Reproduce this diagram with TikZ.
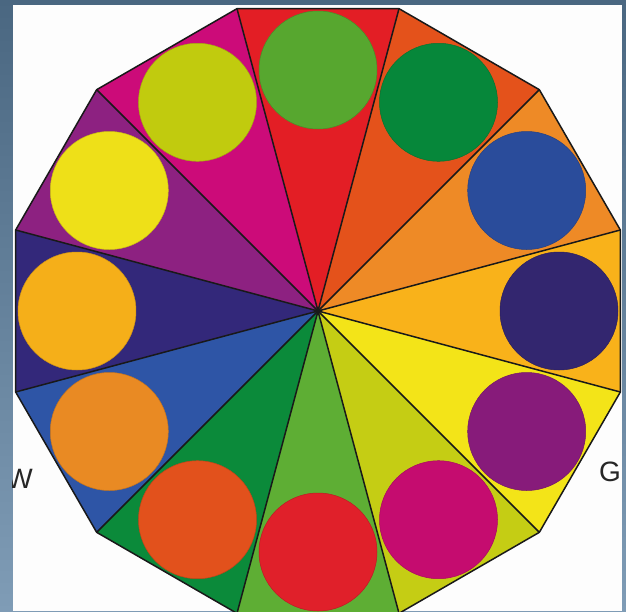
\documentclass[tikz,border=0pt]{standalone}
\usepackage{fontspec}
\setmainfont{Liberation Sans}
\definecolor{bgtop}{HTML}{4A6781}
\definecolor{bgbot}{HTML}{7F9CB6}
\definecolor{panel}{HTML}{FDFDFD}
\definecolor{sA}{HTML}{E31E25}\definecolor{cA}{HTML}{57A72F}
\definecolor{sB}{HTML}{E4521B}\definecolor{cB}{HTML}{06873A}
\definecolor{sC}{HTML}{EE8A26}\definecolor{cC}{HTML}{2A4C9B}
\definecolor{sD}{HTML}{F9B21A}\definecolor{cD}{HTML}{33266F}
\definecolor{sE}{HTML}{F3E418}\definecolor{cE}{HTML}{871B7A}
\definecolor{sF}{HTML}{C5CD14}\definecolor{cF}{HTML}{C50C6F}
\definecolor{sG}{HTML}{5EAE34}\definecolor{cG}{HTML}{E0202A}
\definecolor{sH}{HTML}{0B8A3A}\definecolor{cH}{HTML}{E2511C}
\definecolor{sI}{HTML}{2E55A6}\definecolor{cI}{HTML}{E98A23}
\definecolor{sJ}{HTML}{33287A}\definecolor{cJ}{HTML}{F5AF19}
\definecolor{sK}{HTML}{8D2181}\definecolor{cK}{HTML}{EEE018}
\definecolor{sL}{HTML}{CC0B79}\definecolor{cL}{HTML}{C1CB0E}
\begin{document}
\begin{tikzpicture}[x=1pt,y=1pt,
  edge/.style={line width=1.5pt, draw=black!90, line join=round},
  lbl/.style={font=\fontsize{28}{28}\selectfont, text=black!85, inner sep=0pt}]
\useasboundingbox (-318,-300) rectangle (308,311);
\clip (-318,-300) rectangle (308,311);
\shade[top color=bgtop, bottom color=bgbot] (-318,-300) rectangle (308,311);
\fill[panel] (-305,-300) rectangle (304,306);
\coordinate (O) at (0,0);
\foreach \t/\sc/\cc in {90/sA/cA, 60/sB/cB, 30/sC/cC, 0/sD/cD, -30/sE/cE, -60/sF/cF,
  -90/sG/cG, -120/sH/cH, -150/sI/cI, 180/sJ/cJ, 150/sK/cK, 120/sL/cL} {
  \fill[\sc] (O) -- (\t-15:313) -- (\t+15:313) -- cycle;
  \filldraw[fill=\cc, draw=\cc!85!black, line width=0.5pt] (\t:241) circle (59);
}
\foreach \a in {15,45,...,345} \draw[edge] (O) -- (\a:313);
\draw[edge] (15:313) \foreach \a in {45,75,...,345} { -- (\a:313) } -- cycle;
\begin{scope}
\clip (-305,-300) rectangle (304,306);
\node[lbl, anchor=base east] (w) at (-285,-177) {W};
\node[lbl, anchor=base east] (g) at (303,-170) {G};
\end{scope}
\end{tikzpicture}
\end{document}
